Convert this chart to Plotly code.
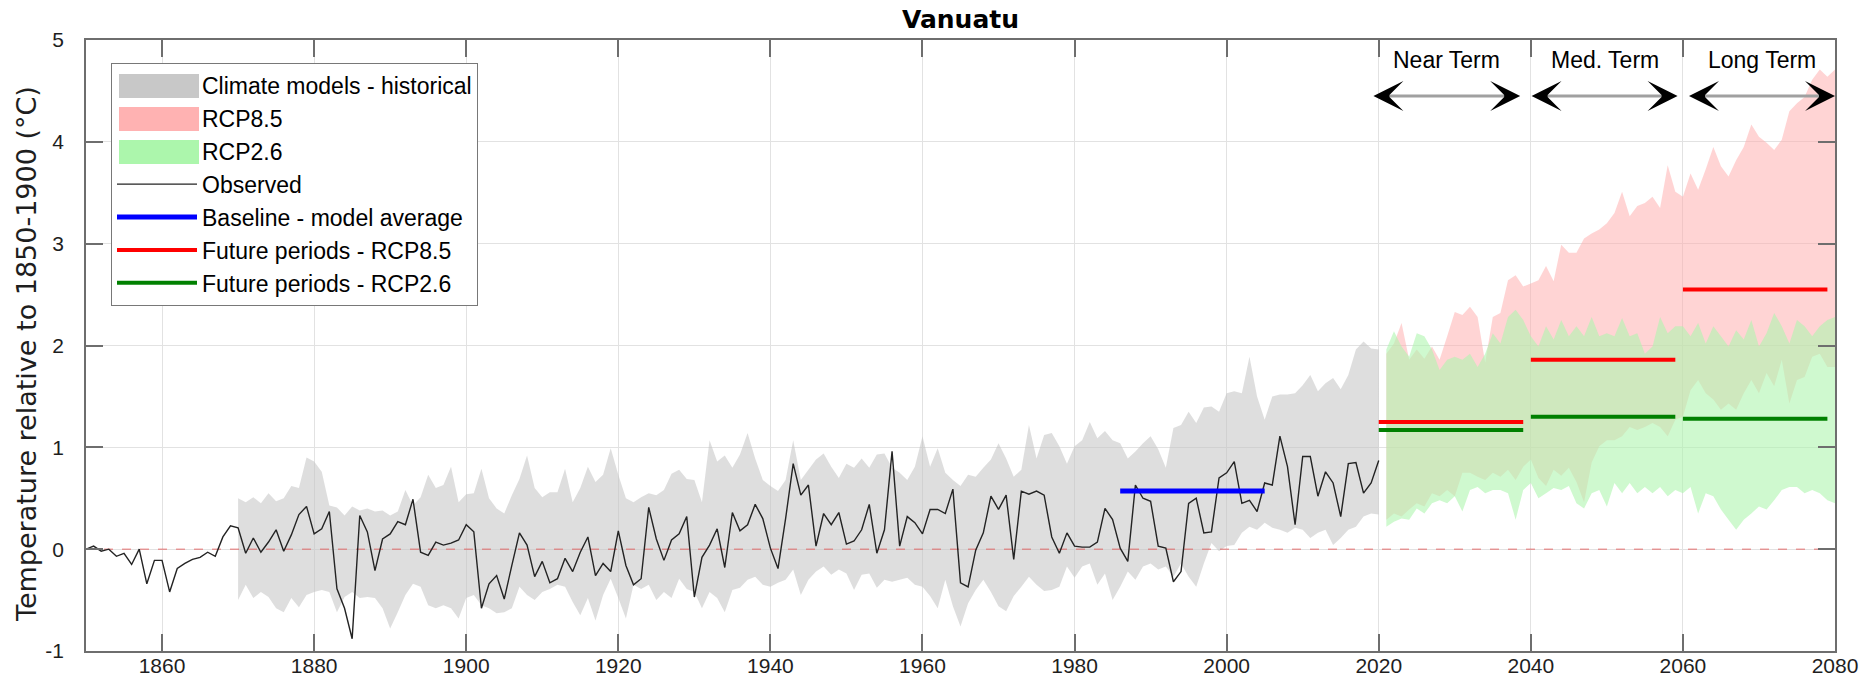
import plotly.graph_objects as go

# ---------------- data ----------------
obs_years = list(range(1850, 2021))
obs_values = [
    0.00, 0.03, -0.02, 0.00, -0.07, -0.04, -0.15, 0.00, -0.34, -0.11,   # 1850-1859
    -0.11, -0.42, -0.19, -0.14, -0.10, -0.08, -0.03, -0.07, 0.12, 0.23,  # 1860-1869
    0.21, -0.04, 0.11, -0.03, 0.07, 0.19, -0.02, 0.14, 0.34, 0.42,       # 1870-1879
    0.15, 0.20, 0.37, -0.39, -0.58, -0.88, 0.33, 0.17, -0.21, 0.10,      # 1880-1889
    0.15, 0.27, 0.24, 0.49, -0.03, -0.06, 0.07, 0.04, 0.06, 0.09,        # 1890-1899
    0.24, 0.17, -0.58, -0.34, -0.26, -0.49, -0.16, 0.16, 0.04, -0.27,    # 1900-1909
    -0.12, -0.33, -0.29, -0.09, -0.22, -0.03, 0.12, -0.26, -0.14, -0.22, # 1910-1919
    0.18, -0.16, -0.35, -0.29, 0.41, 0.10, -0.11, 0.09, 0.15, 0.32,      # 1920-1929
    -0.47, -0.08, 0.04, 0.20, -0.18, 0.36, 0.18, 0.24, 0.44, 0.30,       # 1930-1939
    0.01, -0.19, 0.30, 0.84, 0.53, 0.63, 0.03, 0.35, 0.24, 0.36,         # 1940-1949
    0.05, 0.08, 0.19, 0.44, -0.04, 0.19, 0.96, 0.03, 0.32, 0.26,         # 1950-1959
    0.15, 0.39, 0.39, 0.35, 0.59, -0.33, -0.37, -0.01, 0.16, 0.52,       # 1960-1969
    0.39, 0.53, -0.10, 0.57, 0.54, 0.57, 0.53, 0.12, -0.04, 0.16,        # 1970-1979
    0.03, 0.02, 0.02, 0.07, 0.40, 0.29, 0.01, -0.12, 0.63, 0.50,         # 1980-1989
    0.47, 0.03, 0.01, -0.32, -0.22, 0.45, 0.50, 0.16, 0.17, 0.70,        # 1990-1999
    0.75, 0.86, 0.45, 0.48, 0.37, 0.65, 0.63, 1.11, 0.81, 0.24,          # 2000-2009
    0.91, 0.91, 0.52, 0.76, 0.65, 0.32, 0.84, 0.85, 0.55, 0.65,          # 2010-2019
    0.87,                                                                # 2020
]

hist_years = list(range(1870, 2021))
hist_upper = [
    0.50, 0.46, 0.51, 0.45, 0.55, 0.47, 0.50, 0.62, 0.60, 0.90,   # 1870-1879
    0.86, 0.76, 0.43, 0.41, 0.33, 0.42, 0.38, 0.40, 0.37, 0.38,   # 1880-1889
    0.33, 0.37, 0.58, 0.43, 0.51, 0.73, 0.60, 0.63, 0.81, 0.46,   # 1890-1899
    0.54, 0.55, 0.79, 0.50, 0.40, 0.35, 0.53, 0.69, 0.92, 0.60,   # 1900-1909
    0.51, 0.56, 0.56, 0.79, 0.46, 0.60, 0.81, 0.66, 0.73, 0.99,   # 1910-1919
    0.73, 0.50, 0.46, 0.51, 0.55, 0.53, 0.58, 0.74, 0.78, 0.69,   # 1920-1929
    0.68, 0.46, 1.07, 0.86, 0.92, 0.80, 0.93, 1.14, 0.89, 0.68,   # 1930-1939
    0.62, 0.57, 0.68, 1.07, 0.68, 0.78, 0.88, 0.94, 0.81, 0.70,   # 1940-1949
    0.84, 0.80, 0.89, 0.80, 0.93, 0.94, 0.80, 0.75, 0.68, 0.81,   # 1950-1959
    1.11, 0.81, 0.99, 0.75, 0.68, 0.62, 0.73, 0.71, 0.80, 0.88,   # 1960-1969
    1.04, 0.89, 0.71, 0.78, 1.22, 0.89, 1.12, 1.14, 1.01, 0.84,   # 1970-1979
    1.01, 1.07, 1.25, 1.09, 1.16, 1.07, 1.04, 0.89, 0.96, 1.04,   # 1980-1989
    1.11, 0.98, 0.80, 1.19, 1.22, 1.35, 1.24, 1.39, 1.40, 1.35,   # 1990-1999
    1.53, 1.55, 1.53, 1.89, 1.50, 1.27, 1.50, 1.52, 1.52, 1.53,   # 2000-2009
    1.61, 1.71, 1.55, 1.63, 1.68, 1.57, 1.71, 1.96, 2.04, 1.97,   # 2010-2019
    1.96,                                                         # 2020
]
hist_lower = [
    -0.50, -0.35, -0.48, -0.42, -0.47, -0.58, -0.62, -0.48, -0.57, -0.45,  # 1870-1879
    -0.42, -0.40, -0.42, -0.62, -0.47, -0.42, -0.48, -0.47, -0.48, -0.58,  # 1880-1889
    -0.78, -0.62, -0.45, -0.34, -0.37, -0.55, -0.58, -0.55, -0.58, -0.68,  # 1890-1899
    -0.48, -0.45, -0.55, -0.58, -0.63, -0.62, -0.58, -0.37, -0.45, -0.50,  # 1900-1909
    -0.42, -0.39, -0.35, -0.37, -0.52, -0.65, -0.48, -0.70, -0.45, -0.29,  # 1910-1919
    -0.48, -0.68, -0.35, -0.39, -0.35, -0.50, -0.42, -0.48, -0.29, -0.39,  # 1920-1929
    -0.42, -0.58, -0.42, -0.48, -0.62, -0.40, -0.38, -0.30, -0.27, -0.35,  # 1930-1939
    -0.37, -0.33, -0.30, -0.20, -0.45, -0.30, -0.22, -0.17, -0.25, -0.20,  # 1940-1949
    -0.24, -0.40, -0.25, -0.24, -0.38, -0.30, -0.32, -0.30, -0.28, -0.35,  # 1950-1959
    -0.37, -0.46, -0.58, -0.30, -0.56, -0.76, -0.53, -0.40, -0.30, -0.42,  # 1960-1969
    -0.56, -0.61, -0.46, -0.37, -0.27, -0.35, -0.41, -0.40, -0.37, -0.17,  # 1970-1979
    -0.28, -0.17, -0.14, -0.35, -0.24, -0.50, -0.37, -0.22, -0.30, -0.17,  # 1980-1989
    -0.14, -0.20, -0.17, -0.27, -0.14, -0.27, -0.37, -0.14, 0.06, -0.02,   # 1990-1999
    0.03, 0.04, 0.16, 0.22, 0.19, 0.26, 0.21, 0.19, 0.16, 0.21,            # 2000-2009
    0.19, 0.11, 0.16, 0.19, 0.04, 0.11, 0.19, 0.22, 0.32, 0.35,            # 2010-2019
    0.34,                                                                  # 2020
]

future_years = list(range(2021, 2081))
rcp85_upper = [
    1.92, 2.02, 2.22, 1.86, 1.96, 1.87, 1.99, 1.86, 2.09, 2.33,   # 2021-2030
    2.30, 2.38, 2.28, 1.83, 2.28, 2.32, 2.64, 2.69, 2.58, 2.61,   # 2031-2040
    2.64, 2.78, 2.63, 2.99, 2.91, 2.91, 3.05, 3.10, 3.14, 3.20,   # 2041-2050
    3.30, 3.51, 3.27, 3.37, 3.40, 3.46, 3.35, 3.77, 3.51, 3.46,   # 2051-2060
    3.69, 3.53, 3.73, 3.95, 3.76, 3.66, 3.82, 3.95, 4.17, 4.05,   # 2061-2070
    3.99, 3.92, 4.02, 4.30, 4.38, 4.44, 4.61, 4.71, 4.64, 4.71,   # 2071-2080
]
rcp85_lower = [
    0.29, 0.35, 0.32, 0.39, 0.45, 0.42, 0.55, 0.52, 0.58, 0.52,   # 2021-2030
    0.75, 0.75, 0.71, 0.68, 0.75, 0.71, 0.78, 0.68, 0.81, 0.88,   # 2031-2040
    0.70, 0.62, 0.78, 0.72, 0.80, 0.66, 0.46, 0.85, 1.01, 1.07,   # 2041-2050
    1.07, 1.11, 1.20, 1.17, 1.20, 1.24, 1.20, 1.11, 1.27, 1.30,   # 2051-2060
    1.56, 1.66, 1.53, 1.47, 1.37, 1.43, 1.37, 1.53, 1.66, 1.53,   # 2061-2070
    1.73, 1.60, 1.86, 1.43, 1.66, 1.69, 1.89, 1.92, 1.79, 1.79,   # 2071-2080
]
rcp26_upper = [
    1.96, 2.14, 1.99, 1.89, 2.12, 2.09, 1.96, 1.76, 1.86, 1.89,   # 2021-2030
    1.86, 1.92, 1.79, 1.92, 2.12, 2.02, 2.28, 2.35, 2.25, 2.09,   # 2031-2040
    1.99, 2.19, 2.06, 2.25, 2.09, 2.19, 2.09, 2.28, 2.09, 2.12,   # 2041-2050
    2.09, 2.27, 2.09, 2.12, 1.92, 1.99, 2.28, 2.12, 2.19, 2.19,   # 2051-2060
    2.09, 2.22, 2.02, 2.19, 2.09, 1.99, 2.15, 2.06, 2.25, 1.99,   # 2061-2070
    2.12, 2.32, 2.19, 2.02, 2.25, 2.19, 2.09, 2.19, 2.25, 2.28,   # 2071-2080
]
rcp26_lower = [
    0.22, 0.27, 0.30, 0.29, 0.40, 0.35, 0.45, 0.48, 0.45, 0.52,   # 2021-2030
    0.37, 0.58, 0.61, 0.55, 0.58, 0.58, 0.55, 0.29, 0.58, 0.65,   # 2031-2040
    0.50, 0.55, 0.60, 0.58, 0.62, 0.45, 0.40, 0.55, 0.58, 0.42,   # 2041-2050
    0.65, 0.55, 0.65, 0.55, 0.61, 0.55, 0.61, 0.52, 0.58, 0.55,   # 2051-2060
    0.61, 0.35, 0.55, 0.52, 0.39, 0.29, 0.19, 0.29, 0.35, 0.42,   # 2061-2070
    0.39, 0.48, 0.58, 0.61, 0.61, 0.55, 0.58, 0.55, 0.48, 0.45,   # 2071-2080
]

baseline_years = [1986, 2005]
baseline_value = 0.57

period_start = [2020, 2040, 2060]
period_end = [2039, 2059, 2079]
rcp85_period_mean = [1.25, 1.86, 2.55]
rcp26_period_mean = [1.17, 1.30, 1.28]
period_labels = ["Near Term", "Med. Term", "Long Term"]

x_ticks = list(range(1860, 2081, 20))
y_ticks = [-1, 0, 1, 2, 3, 4, 5]
y_tick_labels = ["-1", "0", "1", "2", "3", "4", "5"]

title_text = "Vanuatu"
y_title = "Temperature relative to 1850-1900 (°C)"
band_names = ["Climate models - historical", "RCP8.5", "RCP2.6"]

# ---------------- styling ----------------
FONT = "Liberation Sans, Arial, sans-serif"
WIDE = "DejaVu Sans, sans-serif"
HIST_FILL = "rgba(195,195,195,0.55)"
R85_FILL = "rgba(255,170,170,0.5)"
R26_FILL = "rgba(175,245,175,0.6)"
SWATCHES = ["rgb(200,200,200)", "rgb(255,178,178)", "rgb(172,246,172)"]

W, H = 1874, 698
ML, MR, MT, MB = 86, 39, 40, 47
PW, PH = W - ML - MR, H - MT - MB


def px_to_paper_x(px):
    return (px - ML) / PW


def px_to_paper_y(py):
    return (H - MB - py) / PH


fig = go.Figure()

# legend entries for the shaded bands (block swatches are added as shapes below)
for name, col in zip(band_names, SWATCHES):
    fig.add_trace(go.Scatter(x=[None], y=[None], mode="lines", name=name,
                             line=dict(color=col, width=0), hoverinfo="skip"))


def band(xs, up, lo, color):
    return go.Scatter(
        x=list(xs) + list(xs)[::-1],
        y=list(up) + list(lo)[::-1],
        fill="toself", fillcolor=color, mode="none",
        line=dict(width=0), showlegend=False, hoverinfo="skip",
    )


fig.add_trace(band(hist_years, hist_upper, hist_lower, HIST_FILL))
fig.add_trace(band(future_years, rcp85_upper, rcp85_lower, R85_FILL))
fig.add_trace(band(future_years, rcp26_upper, rcp26_lower, R26_FILL))

# zero reference line
fig.add_trace(go.Scatter(
    x=[1850, 2080], y=[0, 0], mode="lines", showlegend=False,
    line=dict(color="rgba(225,70,70,0.75)", width=1, dash="dash"),
    hoverinfo="skip",
))

fig.add_trace(go.Scatter(
    x=obs_years, y=obs_values, mode="lines", name="Observed",
    line=dict(color="rgb(35,35,35)", width=1.4),
))

fig.add_trace(go.Scatter(
    x=baseline_years, y=[baseline_value, baseline_value], mode="lines",
    name="Baseline - model average",
    line=dict(color="rgb(0,0,255)", width=5),
))


def period_xy(means):
    xs, ys = [], []
    for s, e, m in zip(period_start, period_end, means):
        xs += [s, e, None]
        ys += [m, m, None]
    return xs, ys


px_, py_ = period_xy(rcp85_period_mean)
fig.add_trace(go.Scatter(x=px_, y=py_, mode="lines", name="Future periods - RCP8.5",
                         line=dict(color="rgb(255,0,0)", width=4)))
px_, py_ = period_xy(rcp26_period_mean)
fig.add_trace(go.Scatter(x=px_, y=py_, mode="lines", name="Future periods - RCP2.6",
                         line=dict(color="rgb(0,128,0)", width=4)))

# ---------------- period arrows and labels ----------------
arrow_y = 4.45
label_y = 4.80
arrow_spans = [(2019.3, 2038.6), (2040.1, 2059.3), (2060.8, 2080.0)]
shapes = []
annotations = []
for (a0, a1), lab in zip(arrow_spans, period_labels):
    shapes.append(dict(type="line", xref="x", yref="y", x0=a0 + 1.5, x1=a1 - 1.5,
                       y0=arrow_y, y1=arrow_y,
                       line=dict(color="rgb(160,160,160)", width=3)))
    for tip, tail in ((a1, a1 - 1.8), (a0, a0 + 1.8)):
        annotations.append(dict(x=tip, y=arrow_y, ax=tail, ay=arrow_y,
                                xref="x", yref="y", axref="x", ayref="y",
                                text="", showarrow=True, arrowhead=3,
                                arrowsize=2.5, arrowwidth=2, arrowcolor="black"))
    annotations.append(dict(x=(a0 + a1) / 2, y=label_y, xref="x", yref="y",
                            text=lab, showarrow=False,
                            font=dict(family=FONT, size=23, color="black")))

# legend background + block swatches (legend itself is transparent on top)
LEG_L, LEG_R, LEG_T, LEG_B = 111, 477, 63, 306
shapes.append(dict(type="rect", xref="paper", yref="paper", layer="above",
                   x0=px_to_paper_x(LEG_L), x1=px_to_paper_x(LEG_R),
                   y0=px_to_paper_y(LEG_B), y1=px_to_paper_y(LEG_T),
                   fillcolor="white", line=dict(width=0)))
row_centres = [86, 119, 152]
for col, rc in zip(SWATCHES, row_centres):
    shapes.append(dict(type="rect", xref="paper", yref="paper", layer="above",
                       x0=px_to_paper_x(119), x1=px_to_paper_x(199),
                       y0=px_to_paper_y(rc + 12), y1=px_to_paper_y(rc - 12),
                       fillcolor=col, line=dict(width=0)))

annotations.append(dict(x=px_to_paper_x(26), y=px_to_paper_y(354), xref="paper", yref="paper",
                        text=y_title, textangle=-90, showarrow=False,
                        xanchor="center", yanchor="middle",
                        font=dict(family=WIDE, size=27, color="rgb(30,30,30)")))

axis_common = dict(
    showline=True, linecolor="rgb(110,110,110)", linewidth=1.5, mirror="ticks",
    ticks="inside", ticklen=17, tickwidth=1.5, tickcolor="rgb(110,110,110)",
    showgrid=True, gridcolor="rgb(226,226,226)", gridwidth=1, zeroline=False,
    automargin=False,
    tickfont=dict(family=FONT, size=21, color="rgb(30,30,30)"),
)

fig.update_layout(
    width=W, height=H,
    margin=dict(l=ML, r=MR, t=MT, b=MB, autoexpand=False),
    paper_bgcolor="white", plot_bgcolor="white",
    title=dict(text="<b>" + title_text + "</b>", x=0.5, xref="paper",
               y=1 - 19 / H, yref="container", xanchor="center", yanchor="middle",
               font=dict(family=WIDE, size=25, color="black")),
    xaxis=dict(range=[1850, 2080], tickvals=x_ticks, ticklabelstandoff=-5, **axis_common),
    yaxis=dict(range=[-1, 5], tickvals=y_ticks, ticktext=y_tick_labels,
               ticklabelstandoff=16, **axis_common),
    legend=dict(x=px_to_paper_x(LEG_L), y=px_to_paper_y(LEG_T), xanchor="left", yanchor="top",
                bgcolor="rgba(0,0,0,0)", bordercolor="rgb(120,120,120)", borderwidth=1,
                font=dict(family=FONT, size=23, color="black"),
                itemwidth=80, tracegroupgap=0),
    shapes=shapes,
    annotations=annotations,
    showlegend=True,
)

fig.write_html("out.html")
